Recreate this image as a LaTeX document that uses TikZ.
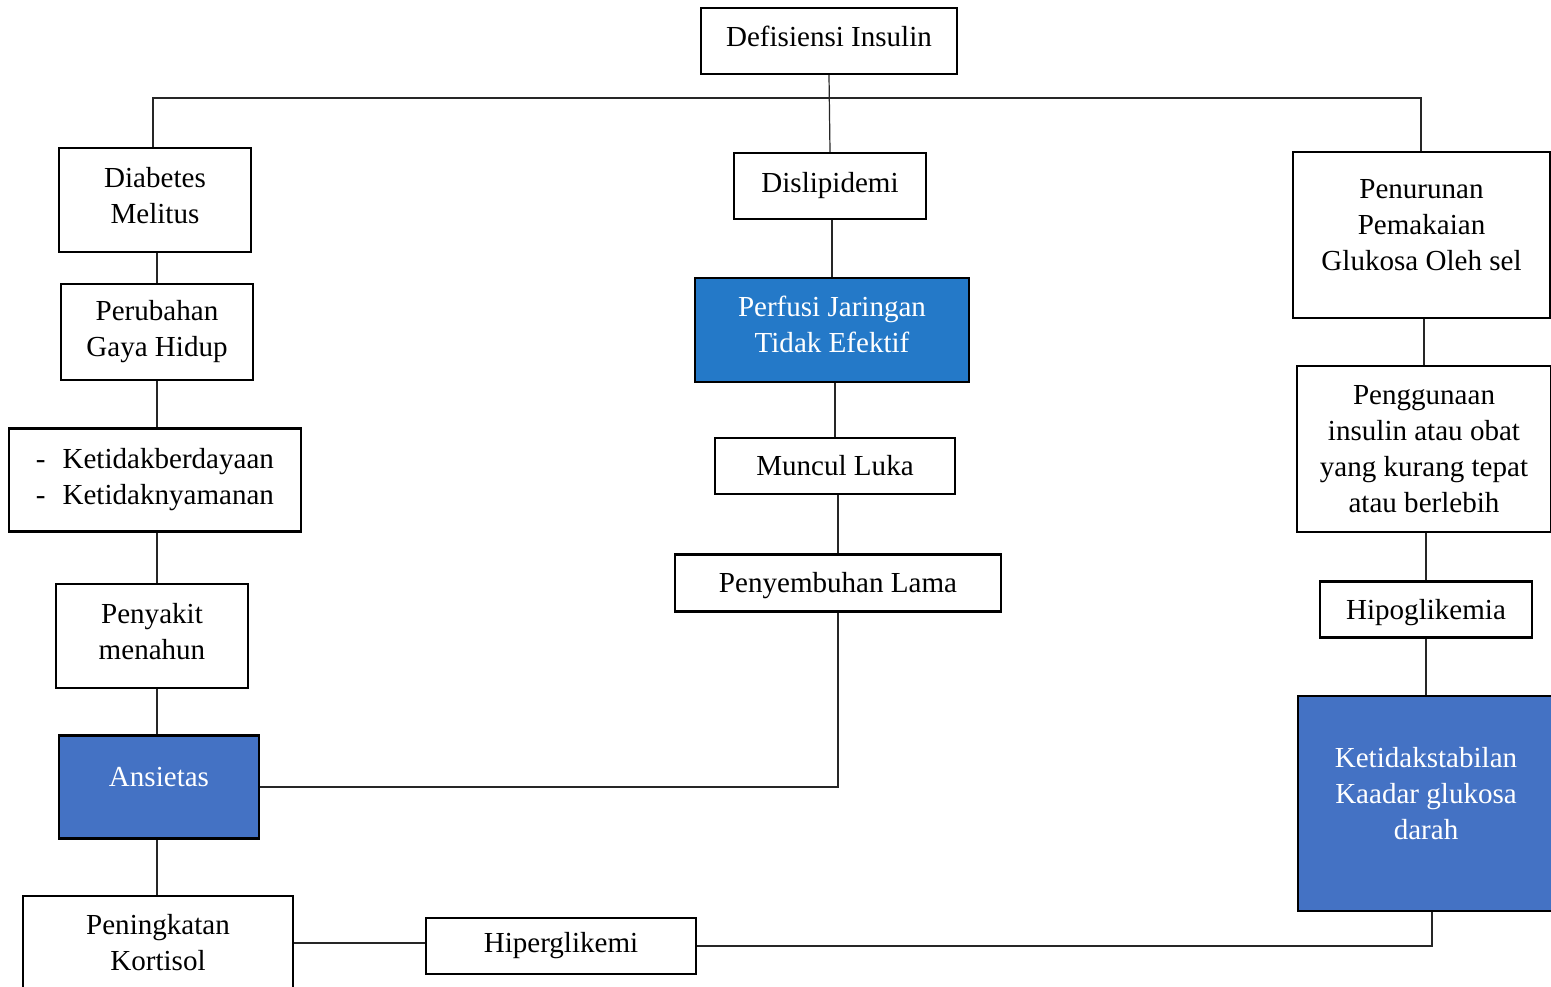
\documentclass[tikz,border=0pt]{standalone}
\usepackage{fontspec}
\setmainfont{Liberation Serif}
\usepackage{tikz}
\usetikzlibrary{positioning,calc}
\definecolor{darkblue}{HTML}{4472C4}
\definecolor{midblue}{HTML}{2479C8}

\begin{document}
\begin{tikzpicture}[
  x=0.413pt, y=-0.413pt,
  kotak/.style={rectangle, draw=black, line width=1pt, fill=white, inner sep=0pt, align=center,
    font=\fontsize{12pt}{14.9pt}\selectfont, minimum width=#1},
  kotak/.default={192*0.413pt},
  biru/.style={fill=#1, text=white},
  conn/.style={line width=0.5pt, black!85}
]
  \useasboundingbox (0,0) rectangle (1551,987);

  % top
  \node[kotak={256*0.413pt}, minimum height=66*0.413pt] (defin) at (829,41) {Defisiensi Insulin\\[-11pt]};
  \coordinate (barL) at (153,98);
  \coordinate (barR) at (1421,98);

  % left column
  \node[kotak, minimum height=104*0.413pt] (dm) at (155,200) {Diabetes\\Melitus\\[-11pt]};
  \node[kotak, minimum height=96*0.413pt] (gaya) at (157,332) {Perubahan\\Gaya Hidup};
  \node[kotak={292*0.413pt}, minimum height=103*0.413pt, align=left] (ketid) at (155,480) {-\hspace{7pt}Ketidakberdayaan\\-\hspace{7pt}Ketidaknyamanan};
  \node[kotak, minimum height=104*0.413pt] (menahun) at (152,636) {Penyakit\\menahun\\[-11pt]};
  \node[kotak={200*0.413pt}, minimum height=103*0.413pt, biru=darkblue] (ansietas) at (159,787) {Ansietas\\[-6.6pt]};
  \node[kotak={270*0.413pt}, minimum height=94*0.413pt] (kortisol) at (158,943) {Peningkatan\\Kortisol};
  \node[kotak={270*0.413pt}, minimum height=56*0.413pt] (hiper) at (561,946) {Hiperglikemi};

  % middle column
  \node[kotak, minimum height=66*0.413pt] (dislip) at (830,186) {Dislipidemi};
  \node[kotak={274*0.413pt}, minimum height=104*0.413pt, biru=midblue] (perfusi) at (832,330) {Perfusi Jaringan\\Tidak Efektif\\[-9.9pt]};
  \node[kotak={240*0.413pt}, minimum height=56*0.413pt] (luka) at (835,466) {Muncul Luka};
  \node[kotak={326*0.413pt}, minimum height=57*0.413pt] (sembuh) at (838,583) {\rule{0pt}{10.5pt}Penyembuhan Lama};

  % right column
  \node[kotak={257*0.413pt}, minimum height=166*0.413pt] (penurunan) at (1421.5,235) {Penurunan\\Pemakaian\\Glukosa Oleh sel\\[-6.6pt]};
  \node[kotak={254*0.413pt}, minimum height=166*0.413pt] (obat) at (1424,449) {Penggunaan\\insulin atau obat\\yang kurang tepat\\atau berlebih};
  \node[kotak={212*0.413pt}, minimum height=56*0.413pt] (hipo) at (1426,609.5) {\rule{0pt}{11.2pt}Hipoglikemia};
  \node[kotak={256*0.413pt}, minimum height=215*0.413pt, biru=darkblue] (glukosa) at (1426,803.5) {Ketidakstabilan\\Kaadar glukosa\\darah\\[-6.6pt]};

  % connectors
  \draw[conn] (defin.south) -- (dislip.north);
  \draw[conn] (dm.north -| barL) -- (barL) -- (barR) -- (penurunan.north -| barR);
  \draw[conn] (gaya.north) -- (gaya.north |- dm.south);
  \draw[conn] (ketid.north -| gaya.south) -- (gaya.south);
  \draw[conn] (menahun.north -| gaya.south) -- (ketid.south -| gaya.south);
  \draw[conn] (ansietas.north -| gaya.south) -- (menahun.south -| gaya.south);
  \draw[conn] (kortisol.north -| gaya.south) -- (ansietas.south -| gaya.south);
  \draw[conn] (kortisol.east) -- (kortisol.east -| hiper.west);
  \draw[conn] (hiper.east) -| ([xshift=6*0.413pt]glukosa.south);
  \draw[conn] (perfusi.north) -- (perfusi.north |- dislip.south);
  \draw[conn] (luka.north) -- (luka.north |- perfusi.south);
  \draw[conn] (sembuh.north) -- (sembuh.north |- luka.south);
  \draw[conn] (sembuh.south) |- (ansietas.east);
  \draw[conn] (obat.north) -- (obat.north |- penurunan.south);
  \draw[conn] (hipo.north) -- (hipo.north |- obat.south);
  \draw[conn] (glukosa.north) -- (glukosa.north |- hipo.south);
\end{tikzpicture}
\end{document}
